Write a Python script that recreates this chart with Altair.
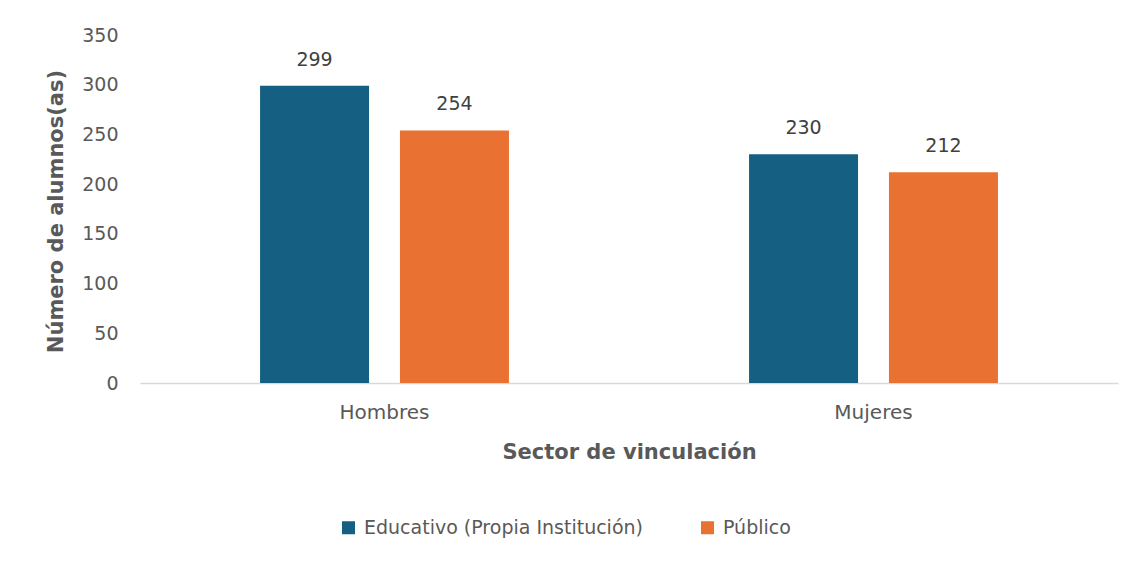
import altair as alt
import pandas as pd

categorias = ["Hombres", "Mujeres"]
series = ["Educativo (Propia Institución)", "Público"]
educativo = [299, 230]
publico = [254, 212]
colores = ["#156082", "#E97132"]
y_ticks = [0, 50, 100, 150, 200, 250, 300, 350]

rows = []
for i, c in enumerate(categorias):
    rows.append({"Sexo": c, "Sector": series[0], "Valor": educativo[i]})
    rows.append({"Sexo": c, "Sector": series[1], "Valor": publico[i]})
df = pd.DataFrame(rows)

W, H = 978, 348
FONT = "DejaVu Sans"

x = alt.X(
    "Sexo:N",
    sort=categorias,
    scale=alt.Scale(paddingInner=0.491, paddingOuter=0.2455),
    axis=alt.Axis(
        title="Sector de vinculación",
        labelAngle=0,
        ticks=False,
        domainColor="#d9d9d9",
        domainWidth=1.5,
        labelFont=FONT,
        labelFontSize=20,
        labelColor="#595959",
        labelPadding=19,
        titleFont=FONT,
        titleFontSize=21,
        titleFontWeight="bold",
        titleColor="#595959",
        titleX=489,
        titleY=69,
        titleBaseline="middle",
    ),
)
xoff = alt.XOffset(
    "Sector:N", sort=series, scale=alt.Scale(paddingInner=0.221, paddingOuter=0)
)
y = alt.Y(
    "Valor:Q",
    scale=alt.Scale(domain=[0, 350], nice=False),
    axis=alt.Axis(
        title="Número de alumnos(as)",
        values=y_ticks,
        grid=False,
        domain=False,
        ticks=False,
        labelFont=FONT,
        labelFontSize=19,
        labelColor="#595959",
        labelPadding=22,
        titleFont=FONT,
        titleFontSize=21,
        titleFontWeight="bold",
        titleColor="#595959",
        titleX=-84,
        titleY=176,
        titleBaseline="middle",
        titleAlign="center",
    ),
)
color = alt.Color(
    "Sector:N",
    sort=series,
    scale=alt.Scale(domain=series, range=colores),
    legend=alt.Legend(
        title=None,
        orient="none",
        direction="horizontal",
        legendX=199,
        legendY=483,
        symbolType="square",
        symbolSize=169,
        symbolStrokeWidth=0,
        symbolOpacity=1,
        labelFont=FONT,
        labelFontSize=19,
        labelColor="#595959",
        labelOffset=6,
        labelLimit=0,
        columnPadding=55,
    ),
)

bars = alt.Chart(df).mark_bar(opacity=1).encode(x=x, xOffset=xoff, y=y, color=color)
labels = alt.Chart(df).mark_text(
    baseline="middle", dy=-26, font=FONT, fontSize=19, color="#404040"
).encode(x=x, xOffset=xoff, y=y, text="Valor:Q")

chart = (
    alt.layer(bars, labels)
    .properties(
        width=W,
        height=H,
        autosize=alt.AutoSizeParams(type="none"),
        padding={"left": 132, "top": 27, "right": 14, "bottom": 170},
        background="white",
    )
    .configure_view(stroke=None)
)

chart.save("out.html", embed_options={"renderer": "svg", "actions": False})
